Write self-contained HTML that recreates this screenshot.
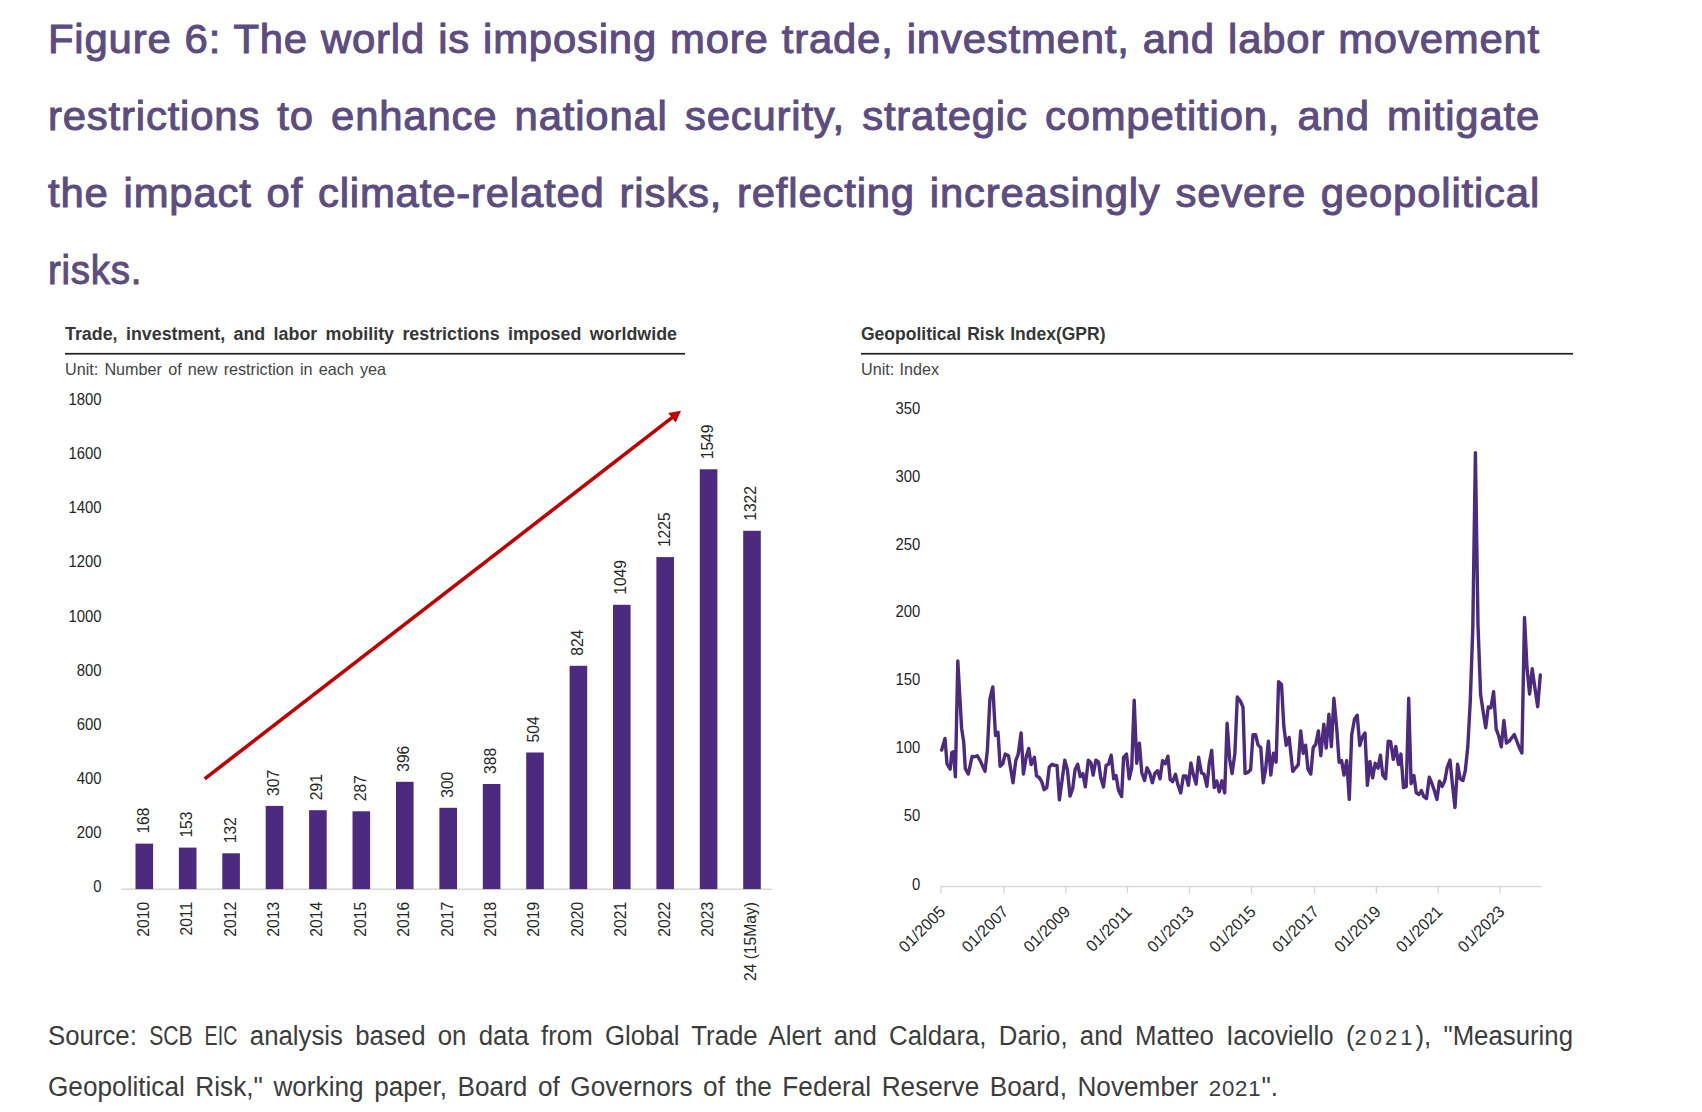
<!DOCTYPE html>
<html lang="en"><head><meta charset="utf-8"><title>Figure 6</title>
<style>
html,body{margin:0;padding:0;background:#fff;}
body{width:1702px;height:1112px;position:relative;overflow:hidden;font-family:"Liberation Sans",sans-serif;}
.ln{position:absolute;white-space:normal;text-align:justify;text-align-last:justify;transform-origin:0 0;}
.tt{color:#5c4c7f;letter-spacing:0.8px;font-size:40px;line-height:60px;font-weight:400;-webkit-text-stroke:1.0px #5c4c7f;}
.src{color:#3c3c3c;font-size:27px;line-height:40px;}
.hd{color:#363636;font-weight:700;font-size:17.5px;line-height:22px;}
.un{color:#444;font-size:16.5px;line-height:20px;}
svg{position:absolute;left:0;top:0;}
svg text{font-family:"Liberation Sans",sans-serif;fill:#262626;}
</style></head><body>

<div class="ln tt" style="left:48.4px;top:9.1px;width:1427.8px;transform:scaleX(1.045)">Figure 6: The world is imposing more trade, investment, and labor movement</div>
<div class="ln tt" style="left:48.4px;top:86.1px;width:1427.8px;transform:scaleX(1.045)">restrictions to enhance national security, strategic competition, and mitigate</div>
<div class="ln tt" style="left:48.4px;top:163.1px;width:1427.8px;transform:scaleX(1.045)">the impact of climate-related risks, reflecting increasingly severe geopolitical</div>
<div class="ln tt" style="left:48.4px;top:240.1px;width:400px;text-align:left;text-align-last:left;transform:scaleX(0.96)">risks.</div>
<div class="ln hd" style="left:65px;top:323px;width:600.0px;transform:scaleX(1.02)">Trade, investment, and labor mobility restrictions imposed worldwide</div>
<div class="ln hd" style="left:861px;top:323px;width:244.5px;transform:scaleX(1.0)">Geopolitical Risk Index(GPR)</div>
<div class="ln un" style="left:65px;top:359px;width:327.6px;transform:scaleX(0.98)">Unit: Number of new restriction in each yea</div>
<div class="ln un" style="left:861px;top:359px;width:79.6px;transform:scaleX(0.98)">Unit: Index</div>
<div class="ln src" style="left:48px;top:1016.2px;width:1596.9px;transform:scaleX(0.955)">Source: <span style="display:inline-block;transform:scaleX(0.82);transform-origin:0 0;margin-right:-10px">SCB</span> <span style="display:inline-block;transform:scaleX(0.76);transform-origin:0 0;margin-right:-10.8px">EIC</span> analysis based on data from Global Trade Alert and Caldara, Dario, and Matteo Iacoviello (<span style="font-size:0.85em;letter-spacing:3.2px">2021</span>), &quot;Measuring</div>
<div class="ln src" style="left:48px;top:1066.6px;width:1268.0px;transform:scaleX(0.97)">Geopolitical Risk,&quot; working paper, Board of Governors of the Federal Reserve Board, November <span style="font-size:0.85em;letter-spacing:0.8px">2021</span>&quot;.</div>
<svg width="1702" height="1112" viewBox="0 0 1702 1112">
<rect x="65" y="352.9" width="620" height="1.7" fill="#1f1f1f"/>
<rect x="861" y="352.9" width="712" height="1.7" fill="#1f1f1f"/>
<rect x="121.5" y="888.5" width="651" height="1.4" fill="#d4d4d4"/>
<rect x="135.5" y="843.6" width="17.6" height="45.5" fill="#4b2a7f"/>
<text transform="translate(148.7,833.6) rotate(-90) scale(0.95,1)" font-size="16.5" text-anchor="start">168</text>
<text transform="translate(148.7,901.9) rotate(-90) scale(0.95,1)" font-size="16.5" text-anchor="end">2010</text>
<rect x="178.9" y="847.6" width="17.6" height="41.5" fill="#4b2a7f"/>
<text transform="translate(192.1,837.6) rotate(-90) scale(0.95,1)" font-size="16.5" text-anchor="start">153</text>
<text transform="translate(192.1,901.9) rotate(-90) scale(0.95,1)" font-size="16.5" text-anchor="end">2011</text>
<rect x="222.3" y="853.3" width="17.6" height="35.8" fill="#4b2a7f"/>
<text transform="translate(235.5,843.3) rotate(-90) scale(0.95,1)" font-size="16.5" text-anchor="start">132</text>
<text transform="translate(235.5,901.9) rotate(-90) scale(0.95,1)" font-size="16.5" text-anchor="end">2012</text>
<rect x="265.7" y="805.9" width="17.6" height="83.2" fill="#4b2a7f"/>
<text transform="translate(278.9,795.9) rotate(-90) scale(0.95,1)" font-size="16.5" text-anchor="start">307</text>
<text transform="translate(278.9,901.9) rotate(-90) scale(0.95,1)" font-size="16.5" text-anchor="end">2013</text>
<rect x="309.1" y="810.2" width="17.6" height="78.9" fill="#4b2a7f"/>
<text transform="translate(322.3,800.2) rotate(-90) scale(0.95,1)" font-size="16.5" text-anchor="start">291</text>
<text transform="translate(322.3,901.9) rotate(-90) scale(0.95,1)" font-size="16.5" text-anchor="end">2014</text>
<rect x="352.5" y="811.3" width="17.6" height="77.8" fill="#4b2a7f"/>
<text transform="translate(365.7,801.3) rotate(-90) scale(0.95,1)" font-size="16.5" text-anchor="start">287</text>
<text transform="translate(365.7,901.9) rotate(-90) scale(0.95,1)" font-size="16.5" text-anchor="end">2015</text>
<rect x="396.0" y="781.8" width="17.6" height="107.3" fill="#4b2a7f"/>
<text transform="translate(409.2,771.8) rotate(-90) scale(0.95,1)" font-size="16.5" text-anchor="start">396</text>
<text transform="translate(409.2,901.9) rotate(-90) scale(0.95,1)" font-size="16.5" text-anchor="end">2016</text>
<rect x="439.4" y="807.8" width="17.6" height="81.3" fill="#4b2a7f"/>
<text transform="translate(452.6,797.8) rotate(-90) scale(0.95,1)" font-size="16.5" text-anchor="start">300</text>
<text transform="translate(452.6,901.9) rotate(-90) scale(0.95,1)" font-size="16.5" text-anchor="end">2017</text>
<rect x="482.8" y="784.0" width="17.6" height="105.1" fill="#4b2a7f"/>
<text transform="translate(496.0,774.0) rotate(-90) scale(0.95,1)" font-size="16.5" text-anchor="start">388</text>
<text transform="translate(496.0,901.9) rotate(-90) scale(0.95,1)" font-size="16.5" text-anchor="end">2018</text>
<rect x="526.2" y="752.5" width="17.6" height="136.6" fill="#4b2a7f"/>
<text transform="translate(539.4,742.5) rotate(-90) scale(0.95,1)" font-size="16.5" text-anchor="start">504</text>
<text transform="translate(539.4,901.9) rotate(-90) scale(0.95,1)" font-size="16.5" text-anchor="end">2019</text>
<rect x="569.6" y="665.8" width="17.6" height="223.3" fill="#4b2a7f"/>
<text transform="translate(582.8,655.8) rotate(-90) scale(0.95,1)" font-size="16.5" text-anchor="start">824</text>
<text transform="translate(582.8,901.9) rotate(-90) scale(0.95,1)" font-size="16.5" text-anchor="end">2020</text>
<rect x="613.0" y="604.8" width="17.6" height="284.3" fill="#4b2a7f"/>
<text transform="translate(626.2,594.8) rotate(-90) scale(0.95,1)" font-size="16.5" text-anchor="start">1049</text>
<text transform="translate(626.2,901.9) rotate(-90) scale(0.95,1)" font-size="16.5" text-anchor="end">2021</text>
<rect x="656.4" y="557.1" width="17.6" height="332.0" fill="#4b2a7f"/>
<text transform="translate(669.6,547.1) rotate(-90) scale(0.95,1)" font-size="16.5" text-anchor="start">1225</text>
<text transform="translate(669.6,901.9) rotate(-90) scale(0.95,1)" font-size="16.5" text-anchor="end">2022</text>
<rect x="699.8" y="469.3" width="17.6" height="419.8" fill="#4b2a7f"/>
<text transform="translate(713.0,459.3) rotate(-90) scale(0.95,1)" font-size="16.5" text-anchor="start">1549</text>
<text transform="translate(713.0,901.9) rotate(-90) scale(0.95,1)" font-size="16.5" text-anchor="end">2023</text>
<rect x="743.2" y="530.8" width="17.6" height="358.3" fill="#4b2a7f"/>
<text transform="translate(756.4,520.8) rotate(-90) scale(0.95,1)" font-size="16.5" text-anchor="start">1322</text>
<text transform="translate(756.4,901.9) rotate(-90) scale(0.95,1)" font-size="16.5" text-anchor="end">24 (15May)</text>
<text transform="translate(101.5,892.4) scale(0.9,1)" font-size="16.5" text-anchor="end">0</text>
<text transform="translate(101.5,838.2) scale(0.9,1)" font-size="16.5" text-anchor="end">200</text>
<text transform="translate(101.5,784.1) scale(0.9,1)" font-size="16.5" text-anchor="end">400</text>
<text transform="translate(101.5,729.9) scale(0.9,1)" font-size="16.5" text-anchor="end">600</text>
<text transform="translate(101.5,675.7) scale(0.9,1)" font-size="16.5" text-anchor="end">800</text>
<text transform="translate(101.5,621.6) scale(0.9,1)" font-size="16.5" text-anchor="end">1000</text>
<text transform="translate(101.5,567.4) scale(0.9,1)" font-size="16.5" text-anchor="end">1200</text>
<text transform="translate(101.5,513.2) scale(0.9,1)" font-size="16.5" text-anchor="end">1400</text>
<text transform="translate(101.5,459.1) scale(0.9,1)" font-size="16.5" text-anchor="end">1600</text>
<text transform="translate(101.5,404.9) scale(0.9,1)" font-size="16.5" text-anchor="end">1800</text>
<line x1="204.7" y1="778.8" x2="672.7" y2="417.2" stroke="#c00000" stroke-width="3.6"/>
<polygon points="681.0,410.8 675.6,422.6 668.2,413.1" fill="#c00000"/>
<rect x="940.4" y="885.9" width="601.2" height="1.3" fill="#d4d4d4"/>
<rect x="940.3" y="886.5" width="1.3" height="7" fill="#d4d4d4"/>
<text transform="translate(946.4,912.6) rotate(-45) scale(0.97,1)" font-size="16.5" text-anchor="end">01/2005</text>
<rect x="1003.2" y="886.5" width="1.3" height="7" fill="#d4d4d4"/>
<text transform="translate(1009.3,912.6) rotate(-45) scale(0.97,1)" font-size="16.5" text-anchor="end">01/2007</text>
<rect x="1065.1" y="886.5" width="1.3" height="7" fill="#d4d4d4"/>
<text transform="translate(1071.2,912.6) rotate(-45) scale(0.97,1)" font-size="16.5" text-anchor="end">01/2009</text>
<rect x="1126.8" y="886.5" width="1.3" height="7" fill="#d4d4d4"/>
<text transform="translate(1132.9,912.6) rotate(-45) scale(0.97,1)" font-size="16.5" text-anchor="end">01/2011</text>
<rect x="1188.8" y="886.5" width="1.3" height="7" fill="#d4d4d4"/>
<text transform="translate(1194.9,912.6) rotate(-45) scale(0.97,1)" font-size="16.5" text-anchor="end">01/2013</text>
<rect x="1250.8" y="886.5" width="1.3" height="7" fill="#d4d4d4"/>
<text transform="translate(1256.9,912.6) rotate(-45) scale(0.97,1)" font-size="16.5" text-anchor="end">01/2015</text>
<rect x="1313.9" y="886.5" width="1.3" height="7" fill="#d4d4d4"/>
<text transform="translate(1320.0,912.6) rotate(-45) scale(0.97,1)" font-size="16.5" text-anchor="end">01/2017</text>
<rect x="1375.7" y="886.5" width="1.3" height="7" fill="#d4d4d4"/>
<text transform="translate(1381.8,912.6) rotate(-45) scale(0.97,1)" font-size="16.5" text-anchor="end">01/2019</text>
<rect x="1437.5" y="886.5" width="1.3" height="7" fill="#d4d4d4"/>
<text transform="translate(1443.6,912.6) rotate(-45) scale(0.97,1)" font-size="16.5" text-anchor="end">01/2021</text>
<rect x="1499.4" y="886.5" width="1.3" height="7" fill="#d4d4d4"/>
<text transform="translate(1505.5,912.6) rotate(-45) scale(0.97,1)" font-size="16.5" text-anchor="end">01/2023</text>
<text transform="translate(920.2,889.7) scale(0.9,1)" font-size="16.5" text-anchor="end">0</text>
<text transform="translate(920.2,821.1) scale(0.9,1)" font-size="16.5" text-anchor="end">50</text>
<text transform="translate(920.2,753.2) scale(0.9,1)" font-size="16.5" text-anchor="end">100</text>
<text transform="translate(920.2,685.2) scale(0.9,1)" font-size="16.5" text-anchor="end">150</text>
<text transform="translate(920.2,617.2) scale(0.9,1)" font-size="16.5" text-anchor="end">200</text>
<text transform="translate(920.2,549.8) scale(0.9,1)" font-size="16.5" text-anchor="end">250</text>
<text transform="translate(920.2,481.9) scale(0.9,1)" font-size="16.5" text-anchor="end">300</text>
<text transform="translate(920.2,413.9) scale(0.9,1)" font-size="16.5" text-anchor="end">350</text>
<polyline points="941.7,750.0 945.0,738.4 947.0,763.8 950.2,769.1 951.8,752.5 953.5,751.7 955.4,776.7 957.8,661.0 961.6,728.2 963.7,741.9 965.3,768.6 968.3,774.0 972.1,756.5 974.5,756.8 977.2,755.7 980.2,760.6 985.0,771.4 987.4,750.0 989.9,699.1 992.8,686.9 995.5,735.5 998.0,732.2 1000.1,766.2 1002.8,763.8 1005.2,754.1 1008.5,755.7 1013.0,782.7 1015.8,760.6 1018.2,754.1 1021.1,733.0 1023.4,774.0 1026.3,756.5 1028.7,748.4 1031.1,764.6 1034.4,757.3 1036.5,775.9 1039.2,777.5 1041.7,781.6 1044.1,789.7 1046.8,787.6 1049.3,767.0 1052.2,764.3 1054.6,765.4 1057.0,765.4 1059.4,799.9 1064.8,760.1 1067.5,770.3 1070.0,796.1 1072.7,788.5 1075.1,769.4 1077.7,764.3 1080.2,776.7 1082.9,773.5 1085.3,786.9 1088.3,760.1 1091.0,763.0 1093.1,775.1 1095.9,760.1 1098.6,762.2 1100.7,777.5 1103.5,786.9 1106.1,765.4 1108.5,764.3 1111.2,755.2 1113.7,778.8 1116.1,775.6 1118.5,790.2 1121.6,796.6 1123.6,757.3 1126.5,754.1 1129.2,778.8 1131.7,767.8 1134.2,700.2 1136.7,763.3 1139.4,743.2 1141.8,772.7 1144.6,780.5 1147.0,767.8 1149.6,772.7 1152.4,782.7 1154.8,773.5 1157.5,770.7 1160.0,778.8 1162.6,760.6 1165.3,763.8 1167.9,756.2 1170.2,779.5 1172.6,781.6 1175.5,774.3 1177.9,784.8 1180.7,792.9 1183.4,775.9 1186.0,775.9 1188.4,785.3 1190.9,763.0 1193.3,774.3 1196.1,784.0 1198.6,757.3 1201.4,772.7 1204.1,774.3 1206.9,786.4 1209.3,763.0 1211.7,750.4 1214.2,787.6 1216.8,781.1 1219.2,791.8 1221.9,780.8 1224.7,792.9 1227.1,723.3 1229.7,759.7 1232.1,773.5 1234.9,753.3 1237.3,697.0 1240.6,701.5 1243.0,707.2 1245.1,773.5 1247.8,772.4 1250.6,769.8 1253.0,734.7 1255.6,734.7 1258.0,744.9 1260.8,747.6 1263.2,782.7 1265.6,769.4 1268.4,741.1 1270.8,775.1 1273.4,753.3 1276.1,762.2 1278.6,681.7 1281.5,684.5 1283.8,725.8 1286.2,745.2 1289.1,737.4 1292.8,771.4 1295.6,767.8 1298.3,764.6 1300.7,730.9 1303.2,753.3 1305.6,745.2 1308.0,769.4 1310.8,774.0 1313.2,747.6 1315.7,744.4 1318.4,730.9 1320.8,755.7 1323.8,724.1 1326.2,748.1 1328.9,714.1 1331.4,746.5 1333.9,698.3 1336.7,728.2 1339.1,762.2 1341.6,760.6 1344.0,775.1 1346.7,760.6 1349.3,799.4 1351.7,734.7 1354.5,719.3 1357.2,715.2 1359.8,745.5 1362.3,737.1 1365.0,733.0 1367.4,785.3 1369.9,761.4 1372.6,777.9 1375.2,763.3 1378.0,768.2 1380.4,755.2 1382.8,775.1 1385.6,778.8 1388.2,741.1 1390.6,741.6 1393.3,759.4 1395.8,746.5 1398.5,764.6 1400.9,754.1 1403.5,787.6 1406.3,786.4 1408.7,698.3 1411.1,783.7 1413.9,775.6 1416.3,792.9 1418.9,794.5 1421.3,790.5 1423.8,796.6 1426.5,798.6 1429.3,777.2 1431.8,783.2 1434.3,790.5 1437.0,799.4 1439.4,781.1 1442.2,786.4 1444.8,780.8 1447.2,767.5 1450.0,760.1 1452.4,784.0 1455.0,807.5 1457.6,764.3 1460.2,778.8 1462.9,780.5 1465.3,770.7 1467.8,746.8 1470.3,700.5 1472.8,628.0 1475.4,452.6 1478.0,625.0 1480.6,694.5 1483.2,712.0 1485.7,727.7 1488.3,707.0 1490.9,707.8 1493.6,691.7 1496.2,729.2 1498.7,736.0 1501.3,746.8 1503.9,720.5 1506.4,743.0 1509.0,741.4 1511.6,738.0 1514.3,734.6 1516.8,741.0 1519.4,748.0 1521.9,752.9 1524.5,617.5 1527.0,668.0 1529.6,694.0 1532.2,668.8 1534.9,688.0 1537.7,706.7 1540.3,675.0" fill="none" stroke="#4b2a7f" stroke-width="3.4" stroke-linejoin="round" stroke-linecap="round"/>
</svg>
</body></html>
